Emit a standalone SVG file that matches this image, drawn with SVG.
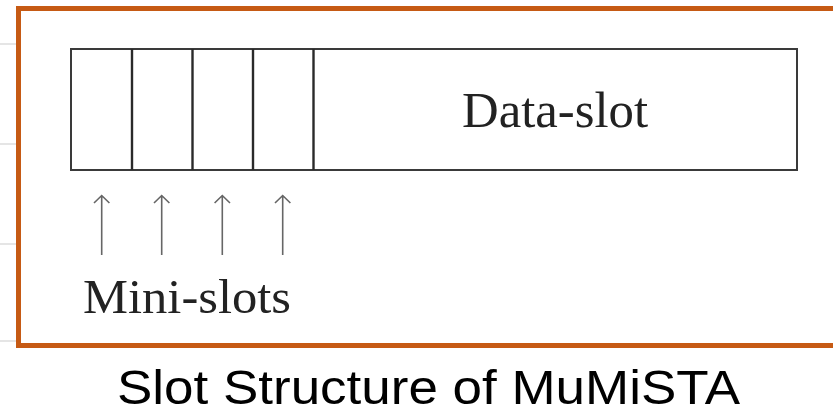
<svg xmlns="http://www.w3.org/2000/svg" width="833" height="414" viewBox="0 0 833 414">
  <defs>
    <style>
      .guide { stroke: #dcdcdc; stroke-width: 1.5; }
      .frame { fill: none; stroke: #C65A14; stroke-width: 5; }
      .slot { fill: #ffffff; stroke: #3a3a3a; stroke-width: 2; }
      .div { stroke: #2a2a2a; stroke-width: 2.4; }
      .ptr { stroke: #666666; stroke-width: 1.6; fill: none; }
      .serif { font-family: "Liberation Serif", "Times New Roman", serif; fill: #222222; }
      .caption { font-family: "Liberation Sans", Arial, sans-serif; fill: #000000; }
    </style>
  </defs>

  <!-- faint background rules at the left margin -->
  <g id="background-rules">
    <line class="guide" x1="0" y1="44" x2="16" y2="44"/>
    <line class="guide" x1="0" y1="144" x2="16" y2="144"/>
    <line class="guide" x1="0" y1="244" x2="16" y2="244"/>
    <line class="guide" x1="0" y1="341" x2="16" y2="341"/>
  </g>

  <!-- orange outline around the figure -->
  <g id="frame">
    <rect class="frame" x="18.5" y="8.5" width="830" height="337"/>
  </g>

  <!-- slot bar: four mini-slots followed by the data slot -->
  <g id="slot-bar">
    <rect class="slot" x="71" y="49" width="726" height="121"/>
    <line class="div" x1="132" y1="49" x2="132" y2="170"/>
    <line class="div" x1="192.5" y1="49" x2="192.5" y2="170"/>
    <line class="div" x1="253" y1="49" x2="253" y2="170"/>
    <line class="div" x1="313.5" y1="49" x2="313.5" y2="170"/>
  </g>

  <g id="data-slot">
    <text class="serif" x="462" y="127" font-size="51" textLength="186" lengthAdjust="spacingAndGlyphs">Data-slot</text>
  </g>

  <!-- pointers to each mini-slot -->
  <g id="connectors">
    <path class="ptr" d="M101.7 255 V196 M94 203 L101.7 195.5 L109.4 203"/>
    <path class="ptr" d="M161.7 255 V196 M154 203 L161.7 195.5 L169.4 203"/>
    <path class="ptr" d="M222.3 255 V196 M214.6 203 L222.3 195.5 L230 203"/>
    <path class="ptr" d="M282.7 255 V196 M275 203 L282.7 195.5 L290.4 203"/>
  </g>

  <g id="mini-slots">
    <text class="serif" x="83" y="313" font-size="49" textLength="208" lengthAdjust="spacingAndGlyphs">Mini-slots</text>
  </g>

  <g id="caption">
    <text class="caption" x="117" y="404" font-size="49" textLength="623" lengthAdjust="spacingAndGlyphs">Slot Structure of MuMiSTA</text>
  </g>
</svg>
